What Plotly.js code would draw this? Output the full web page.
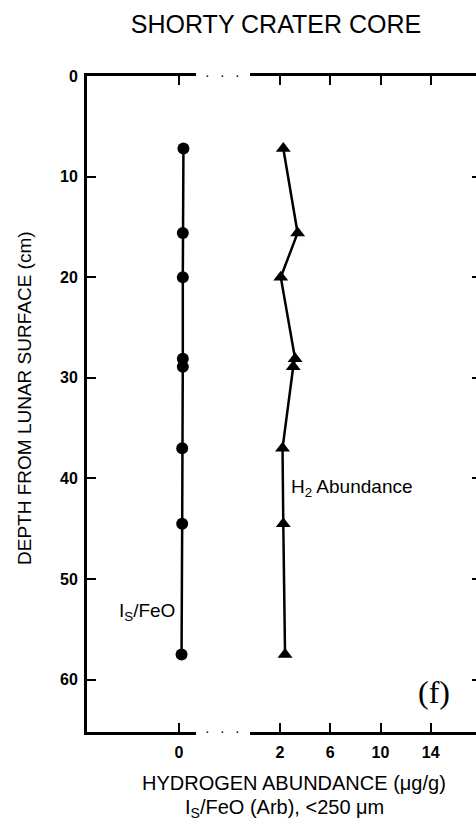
<!DOCTYPE html>
<html>
<head>
<meta charset="utf-8">
<script src="https://cdn.plot.ly/plotly-3.0.1.min.js"></script>
<style>
  html, body { margin: 0; padding: 0; background: #fff; overflow: hidden; }
  #chart { width: 490px; height: 829px; }
</style>
</head>
<body>
<div id="chart"></div>
<script>
// Depths (cm) of samples
const depthIsFeO = [7.2, 15.6, 20.0, 28.1, 28.9, 37.0, 44.5, 57.5];
const isFeO      = [0.35, 0.3, 0.3, 0.3, 0.3, 0.25, 0.25, 0.2];
const depthH2    = [7.2, 15.6, 20.0, 28.1, 28.9, 37.0, 44.5, 57.5];
const h2Abund    = [2.26, 3.4, 2.06, 3.2, 3.05, 2.2, 2.26, 2.4];
const h2TickVals = [2, 6, 10, 14];
const h2TickText = ["2", "6", "10", "14"];
const yTickVals  = [0, 10, 20, 30, 40, 50, 60];

const W = 490, H = 829;
const mL = 87, mR = 9, mT = 76, mB = 97;
const plotW = W - mL - mR;
const plotH = H - mT - mB;
const dom1 = [0, (196 - mL) / plotW];
const dom2 = [(250 - mL) / plotW, 1];

const font = "Liberation Sans, Arial, Helvetica, sans-serif";

const traces = [
  {
    x: isFeO, y: depthIsFeO, xaxis: 'x', yaxis: 'y',
    mode: 'lines+markers', type: 'scatter',
    line: {color: '#000', width: 2.5},
    marker: {symbol: 'circle', size: 12, color: '#000'},
    hoverinfo: 'none', showlegend: false
  },
  {
    x: h2Abund, y: depthH2, xaxis: 'x2', yaxis: 'y2',
    mode: 'lines+markers', type: 'scatter',
    line: {color: '#000', width: 2.5},
    marker: {symbol: 'triangle-up', size: 13, color: '#000'},
    hoverinfo: 'none', showlegend: false
  }
];

const axCommon = {
  showline: true, linecolor: '#000', linewidth: 3,
  ticks: 'inside', ticklen: 9, tickwidth: 2, tickcolor: '#000',
  showgrid: false, zeroline: false, fixedrange: true,
  tickfont: {family: font, size: 16, color: '#000', weight: 'bold'}
};

const yRange = [65.2, 0];

function dot(px, yPaper) {
  return {xref: 'paper', yref: 'paper', x: (px - mL) / plotW, y: yPaper, text: '•',
          showarrow: false, font: {size: 7, color: '#000'}, xanchor: 'center', yanchor: 'middle'};
}
function belowPlot(py) { return -(py - (H - mB)) / plotH; }

const layout = {
  width: W, height: H,
  margin: {l: mL, r: mR, t: mT, b: mB},
  paper_bgcolor: '#fff', plot_bgcolor: '#fff',
  showlegend: false,
  title: {
    text: 'SHORTY CRATER CORE',
    font: {family: font, size: 25, color: '#000'},
    x: 276 / W, xanchor: 'center', y: 1 - 24 / H, yanchor: 'middle'
  },
  xaxis: Object.assign({}, axCommon, {
    domain: dom1, anchor: 'y', range: [-7.33, 1.35], ticklabelstandoff: 4,
    tickvals: [0], ticktext: ['0'], mirror: 'ticks'
  }),
  xaxis2: Object.assign({}, axCommon, {
    domain: dom2, anchor: 'y2', range: [-0.39, 18.0], ticklabelstandoff: 4,
    tickvals: h2TickVals, ticktext: h2TickText, mirror: 'ticks'
  }),
  yaxis: Object.assign({}, axCommon, {
    anchor: 'x', range: yRange, tickvals: yTickVals, ticklabelstandoff: 3
  }),
  yaxis2: Object.assign({}, axCommon, {
    anchor: 'x2', overlaying: 'y', side: 'right', range: yRange,
    tickvals: yTickVals, showticklabels: false
  }),
  annotations: [
    dot(207, 1), dot(222, 1), dot(237, 1),
    dot(207, 0), dot(222, 0), dot(237, 0),
    {xref: 'paper', yref: 'paper', x: (24 - mL) / plotW, y: 1 - (398 - mT) / plotH,
     text: 'DEPTH FROM LUNAR SURFACE (cm)', textangle: -90, showarrow: false,
     xanchor: 'center', yanchor: 'middle', font: {family: font, size: 19, color: '#000'}},
    {xref: 'x2', yref: 'y2', x: 2.72, y: 40.9, text: 'H<sub>2</sub> Abundance', showarrow: false,
     xanchor: 'left', yanchor: 'middle', font: {family: font, size: 19, color: '#000'}},
    {xref: 'x', yref: 'y', x: -0.16, y: 53.3, text: 'I<sub>S</sub>/FeO', showarrow: false,
     xanchor: 'right', yanchor: 'middle', font: {family: font, size: 19, color: '#000'}},
    {xref: 'x2', yref: 'y2', x: 14.27, y: 61.2, text: '(f)', showarrow: false,
     xanchor: 'center', yanchor: 'middle',
     font: {family: 'Liberation Serif, Times New Roman, serif', size: 32, color: '#000'}},
    {xref: 'paper', yref: 'paper', x: (294 - mL) / plotW, y: belowPlot(783),
     text: 'HYDROGEN ABUNDANCE (μg/g)', showarrow: false, xanchor: 'center', yanchor: 'middle',
     font: {family: font, size: 20, color: '#000'}},
    {xref: 'paper', yref: 'paper', x: (284 - mL) / plotW, y: belowPlot(808),
     text: 'I<sub>S</sub>/FeO (Arb), &lt;250 μm', showarrow: false, xanchor: 'center', yanchor: 'middle',
     font: {family: font, size: 20, color: '#000'}}
  ]
};

Plotly.newPlot('chart', traces, layout, {displayModeBar: false, staticPlot: true});
</script>
</body>
</html>
